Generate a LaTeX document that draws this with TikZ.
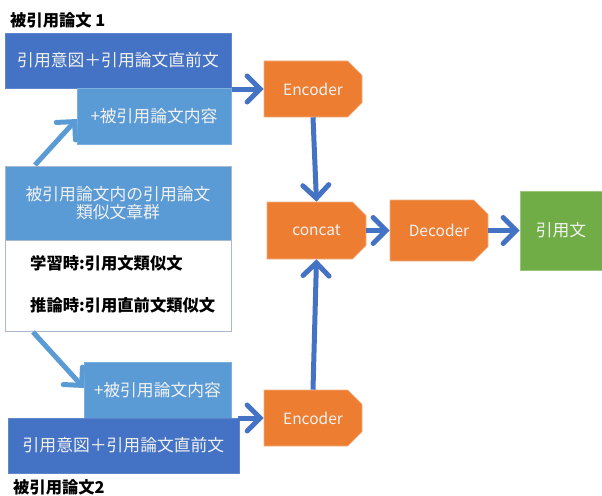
\documentclass[tikz,border=0pt]{standalone}
\usepackage{fontspec}
\setmainfont{Noto Sans CJK JP}
\usetikzlibrary{shapes.misc,arrows.meta}
\definecolor{dblue}{HTML}{4472C4}
\definecolor{lblue}{HTML}{5B9BD5}
\definecolor{orng}{HTML}{ED7D31}
\definecolor{grn}{HTML}{70AD47}
\definecolor{edge}{HTML}{A9B8CF}
\tikzset{
  box/.style={rectangle, inner sep=0pt, text=white!95!black, font=\fontsize{16.8}{19}\selectfont, line width=0.6pt},
  darkbox/.style={box, fill=dblue, draw=dblue!85!white},
  lightbox/.style={box, fill=lblue, draw=lblue!80!white},
  proc/.style={chamfered rectangle, chamfered rectangle corners={north east,south east},
    chamfered rectangle xsep=8pt, chamfered rectangle ysep=8pt, inner sep=0pt,
    fill=orng, draw=orng!60!white, line width=0.6pt, text=white!95!black,
    font=\fontsize{15.5}{18}\selectfont},
  flow/.style={draw=dblue, line width=5pt, -{Straight Barb[length=13pt,width=26pt,line cap=round]}},
  lflow/.style={draw=lblue, line width=5pt, -{Straight Barb[length=13pt,width=26pt,line cap=round]}},
  lbl/.style={font=\fontsize{16.3}{19}\selectfont\bfseries, text=black, inner sep=0pt},
}
\begin{document}
\begin{tikzpicture}[x=1pt,y=-1pt]
\useasboundingbox (0,0) rectangle (602,495);
% top group
\node[darkbox, minimum width=226pt, minimum height=55pt] (d1) at (118,60.5) {引用意図＋引用論文直前文};
\node[lightbox, minimum width=154pt, minimum height=56pt] (l1) at (154,116) {+被引用論文内容};
\node[lbl, anchor=west] (t1) at (10,20) {被引用論文 1};
% middle
\node[box, fill=lblue, draw=edge, minimum width=226pt, minimum height=74pt, align=center] (mh) at (118,203) {被引用論文内の引用論文\\[-1pt]類似文章群};
\node[box, fill=white, draw=edge, minimum width=226pt, minimum height=91pt] (mb) at (118,285.5) {};
\node[lbl, anchor=west] (m1) at (30,263) {学習時:引用文類似文};
\node[lbl, anchor=west] (m2) at (30,305) {推論時:引用直前文類似文};
% bottom group
\node[lightbox, minimum width=147pt, minimum height=56pt] (l2) at (157.5,390) {+被引用論文内容};
\node[darkbox, minimum width=231pt, minimum height=55pt] (d2) at (123.5,445.5) {引用意図＋引用論文直前文};
\node[lbl, anchor=west] (t2) at (13,487) {被引用論文2};
% processing
\node[proc, minimum width=98pt, minimum height=56pt] (e1) at (313,89) {Encoder};
\node[proc, minimum width=99pt, minimum height=57pt] (cc) at (316.5,230.5) {concat};
\node[proc, minimum width=98pt, minimum height=61pt] (dec) at (439,230.5) {Decoder};
\node[box, fill=grn, draw=grn!70!white, minimum width=82pt, minimum height=79pt] (out) at (561,230.5) {引用文};
\node[proc, minimum width=98pt, minimum height=56pt] (e2) at (313,418) {Encoder};
% connectors
\coordinate (s1) at (232,89);
\coordinate (s2) at (238,418);
\draw[flow] (s1) -- (e1.west);
\draw[flow] (s2) -- (e2.west);
\draw[flow] (e1.south) -- (cc.north);
\draw[flow] (e2.north) -- (cc.south);
\draw[flow] (cc.east) -- (dec.west);
\draw[flow] (dec.east) -- (out.west);
\coordinate (a1) at (35,165);
\coordinate (a1e) at (77,119);
\coordinate (a2) at (33,332);
\coordinate (a2e) at (84,388);
\draw[lflow] (a1) -- (a1e);
\draw[lflow] (a2) -- (a2e);
\end{tikzpicture}
\end{document}
